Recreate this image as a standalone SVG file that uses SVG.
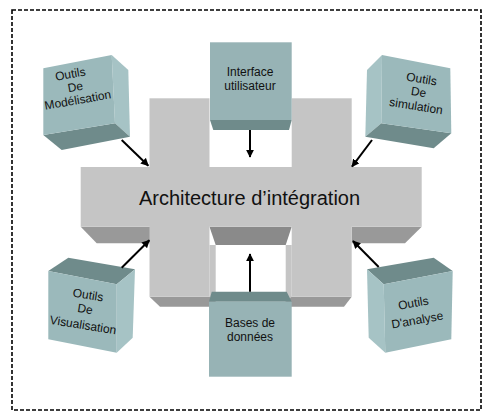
<svg xmlns="http://www.w3.org/2000/svg" width="484" height="412" viewBox="0 0 484 412">
  <defs>
    <style>
      .frame { fill: none; stroke: #000; stroke-width: 1.6; stroke-dasharray: 4 2; }
      .front { fill: #c5c5c5; }
      .under { fill: #999999; }
      .under-dark { fill: #8a8a8a; }
      .cube-front { fill: #9bb9bb; }
      .cube-side { fill: #a6c3c5; }
      .cube-dark { fill: #6f8b8b; }
      .lbl { font-family: "Liberation Sans", Arial, sans-serif; font-size: 12px; fill: #111; text-anchor: middle; }
      .title { font-family: "Liberation Sans", Arial, sans-serif; font-size: 20px; fill: #111; text-anchor: middle; }
      .link { stroke: #000; stroke-width: 2; fill: none; marker-end: url(#head); }
    </style>
    <marker id="head" viewBox="0 0 10 10" refX="9" refY="5" markerWidth="4" markerHeight="4" orient="auto" markerUnits="strokeWidth">
      <path d="M0,0 L10,5 L0,10 z" fill="#000"/>
    </marker>
  </defs>

  <rect class="frame" x="12" y="10" width="469" height="400"/>

  <!-- central hash block -->
  <g id="architecture">
    <!-- undersides -->
    <polygon class="under" points="80.7,226.7 150,226.7 150,243.3 96.7,243.3"/>
    <polygon class="under" points="351.7,226.7 421.7,226.7 405,243.3 351.7,243.3"/>
    <polygon class="under-dark" points="209.5,226.7 291.7,226.7 285.7,245 215.7,245"/>
    <polygon class="under" points="149.5,296.7 215.7,296.7 215.7,306.7 160,306.7"/>
    <polygon class="under" points="285.7,296.7 351.7,296.7 344,306.7 285.7,306.7"/>
    <!-- inner faces of the lower opening -->
    <polygon class="front" points="209.5,245 215.7,245 215.7,302 209.5,296.7"/>
    <polygon class="front" points="285.7,245 291.7,245 291.7,296.7 285.7,302"/>
    <!-- front faces -->
    <rect class="front" x="80.7" y="167" width="341" height="59.7"/>
    <rect class="front" x="149.5" y="98.3" width="60" height="198.4"/>
    <rect class="front" x="291.7" y="98.3" width="60" height="198.4"/>
    <text class="title" x="249.5" y="205">Architecture d’intégration</text>
  </g>

  <!-- Interface utilisateur -->
  <g id="interface">
    <polygon class="cube-dark" points="210,120 291.7,120 289,130 213.3,130"/>
    <rect class="cube-front" x="210" y="42.3" width="81.7" height="77.7" fill="#97b3b5" style="fill:#97b3b5"/>
    <text class="lbl" x="250" y="76">Interface</text>
    <text class="lbl" x="250" y="90">utilisateur</text>
  </g>

  <!-- Bases de données -->
  <g id="bases">
    <polygon class="cube-dark" points="211.7,291.7 286.7,291.7 291.7,301.7 209,301.7"/>
    <rect x="209" y="301.7" width="82.7" height="75" style="fill:#97b3b5"/>
    <text class="lbl" x="250" y="327">Bases de</text>
    <text class="lbl" x="250" y="341">données</text>
  </g>

  <!-- Outils De Modélisation -->
  <g id="modelisation">
    <polygon class="cube-side" points="111.7,55 128.3,70 130,136.7 115,123.3"/>
    <polygon class="cube-dark" points="43.3,135 115,123.3 130,136.7 61.7,150"/>
    <polygon class="cube-front" points="43.3,68.3 111.7,55 115,123.3 43.3,135"/>
    <text class="lbl" x="71" y="78" transform="rotate(-10 71 78)">Outils</text>
    <text class="lbl" x="76" y="91" transform="rotate(-10 76 91)">De</text>
    <text class="lbl" x="78.5" y="104" transform="rotate(-10 78.5 104)">Modélisation</text>
  </g>

  <!-- Outils De simulation -->
  <g id="simulation">
    <polygon class="cube-side" points="367,70 382,55 381.3,123.3 365.3,136.7"/>
    <polygon class="cube-dark" points="381.3,123.3 451.3,133.3 433.7,148.3 365.3,136.7"/>
    <polygon class="cube-front" points="382,55 450.3,68.3 451.3,133.3 381.3,123.3"/>
    <text class="lbl" x="421" y="83" transform="rotate(9 421 83)">Outils</text>
    <text class="lbl" x="418" y="96" transform="rotate(9 418 96)">De</text>
    <text class="lbl" x="415.5" y="110" transform="rotate(9 415.5 110)">simulation</text>
  </g>

  <!-- Outils De Visualisation -->
  <g id="visualisation">
    <polygon class="cube-dark" points="48.3,271 68.3,257.7 135,269.3 116.7,284.3"/>
    <polygon class="cube-side" points="116.7,284.3 135,269.3 132.7,337.7 116.7,352.7"/>
    <polygon class="cube-front" points="48.3,271 116.7,284.3 116.7,352.7 48.3,339.3"/>
    <text class="lbl" x="87.5" y="299" transform="rotate(9 87.5 299)">Outils</text>
    <text class="lbl" x="84.5" y="313" transform="rotate(9 84.5 313)">De</text>
    <text class="lbl" x="82.5" y="329" transform="rotate(9 82.5 329)">Visualisation</text>
  </g>

  <!-- Outils D'analyse -->
  <g id="analyse">
    <polygon class="cube-dark" points="367,269.3 433.7,257.7 452.7,271 383.7,284.3"/>
    <polygon class="cube-side" points="367,269.3 383.7,284.3 385.3,352.7 368.7,337.7"/>
    <polygon class="cube-front" points="383.7,284.3 452.7,271 451.3,339.3 385.3,352.7"/>
    <text class="lbl" x="414" y="307" transform="rotate(-10 414 307)">Outils</text>
    <text class="lbl" x="418" y="324" transform="rotate(-10 418 324)">D'analyse</text>
  </g>

  <!-- connectors -->
  <g id="connectors">
    <line class="link" x1="121.7" y1="140" x2="148.3" y2="165.7"/>
    <line class="link" x1="250" y1="130" x2="250" y2="157"/>
    <line class="link" x1="372" y1="140" x2="352" y2="166.7"/>
    <line class="link" x1="121.7" y1="267.7" x2="149.3" y2="240.3"/>
    <line class="link" x1="250" y1="291.7" x2="250" y2="254"/>
    <line class="link" x1="378.7" y1="267" x2="353" y2="241"/>
  </g>
</svg>
